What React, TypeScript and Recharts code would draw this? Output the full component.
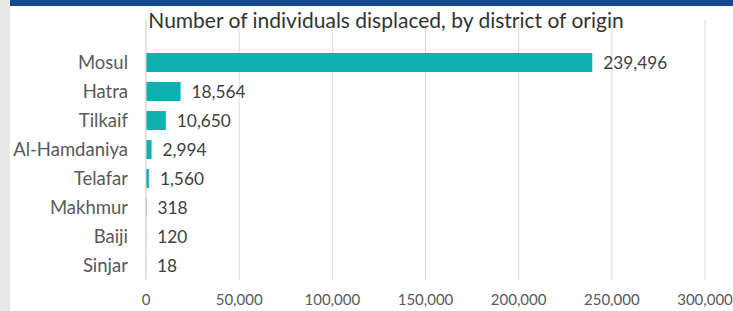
import { BarChart, Bar, XAxis, YAxis, CartesianGrid, LabelList } from "recharts"

const districts = ["Mosul", "Hatra", "Tilkaif", "Al-Hamdaniya", "Telafar", "Makhmur", "Baiji", "Sinjar"]
const displaced = [239496, 18564, 10650, 2994, 1560, 318, 120, 18]
const xTicks = [0, 50000, 100000, 150000, 200000, 250000, 300000]

const rows = districts.map((d, i) => ({ district: d, value: displaced[i] }))

const FONT = "Lato, 'Open Sans', sans-serif"
const fmt = (v: number) => v.toLocaleString("en-US")

export default function App() {
    return (
        <div
            style={{
                position: "fixed",
                left: 0,
                top: 0,
                width: 733,
                height: 311,
                background: "#ffffff",
                fontFamily: FONT,
                overflow: "hidden"
            }}
        >
            <div style={{ position: "absolute", left: 0, top: 0, width: 10, height: 311, background: "#e8e8e8" }} />
            <div style={{ position: "absolute", left: 10, top: 0, width: 723, height: 6, background: "#17488f" }} />
            <div style={{ position: "absolute", left: 0, top: 0 }}>
                <BarChart
                    width={733}
                    height={311}
                    data={rows}
                    layout="vertical"
                    margin={{ top: 20, right: 28, bottom: 0, left: 0 }}
                >
                    <CartesianGrid horizontal={false} stroke="#d9d9d9" strokeWidth={1} />
                    <XAxis
                        type="number"
                        domain={[0, 300000]}
                        ticks={xTicks}
                        tickFormatter={fmt}
                        axisLine={false}
                        tickLine={false}
                        height={31}
                        tickMargin={8}
                        tick={{ fill: "#595959", fontSize: 15, fontFamily: FONT }}
                    />
                    <YAxis
                        type="category"
                        dataKey="district"
                        width={146}
                        padding={{ top: 28, bottom: 0 }}
                        axisLine={{ stroke: "#d9d9d9" }}
                        tickLine={false}
                        tickMargin={12}
                        tick={{ fill: "#595959", fontSize: 18.5, fontFamily: FONT }}
                    />
                    <Bar dataKey="value" fill="#10afb1" barSize={19} isAnimationActive={false}>
                        <LabelList
                            dataKey="value"
                            position="right"
                            offset={11}
                            formatter={(v: number) => fmt(v)}
                            style={{ fill: "#404040", fontSize: 17.3, fontFamily: FONT }}
                        />
                    </Bar>
                </BarChart>
            </div>
            <div
                style={{
                    position: "absolute",
                    left: 386,
                    top: 7,
                    transform: "translateX(-50%)",
                    whiteSpace: "nowrap",
                    fontSize: 21,
                    color: "#333333",
                    lineHeight: "26px"
                }}
            >
                Number of individuals displaced, by district of origin
            </div>
        </div>
    )
}
